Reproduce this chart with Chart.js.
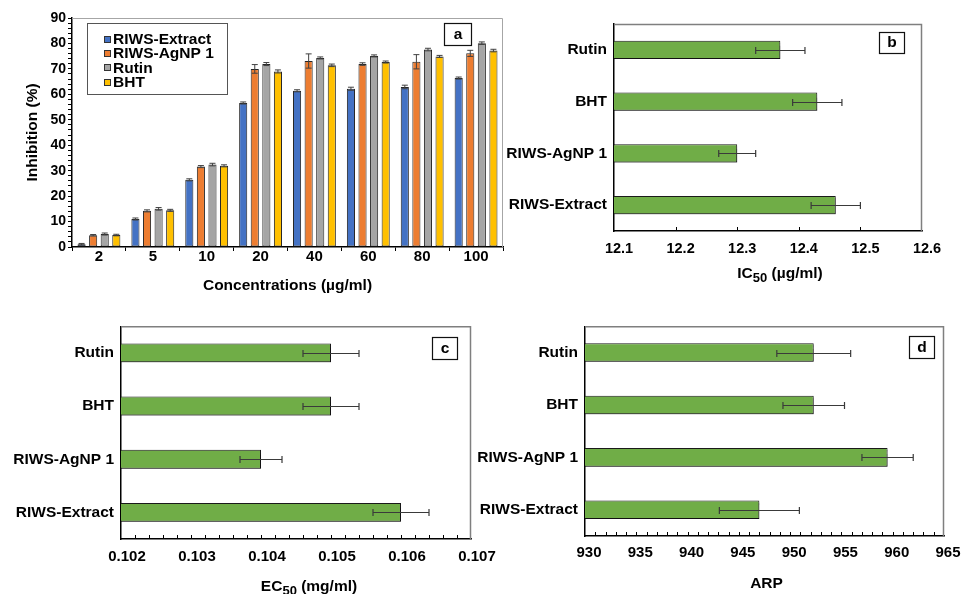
<!DOCTYPE html>
<html>
<head>
<meta charset="utf-8">
<script src="https://cdn.jsdelivr.net/npm/chart.js@4.4.1/dist/chart.umd.min.js"></script>
<style>
  html, body { margin: 0; padding: 0; background: #fff; overflow: hidden; width: 962px; height: 594px; }
  canvas { position: absolute; }
</style>
</head>
<body>
<canvas id="panelA" width="505" height="300" style="left:0;top:0"></canvas>
<canvas id="panelB" width="462" height="300" style="left:500px;top:0"></canvas>
<canvas id="panelC" width="510" height="284" style="left:0;top:310px"></canvas>
<canvas id="panelD" width="510" height="284" style="left:470px;top:310px"></canvas>
<script>
// ---- data ----
const concentrations = ['2', '5', '10', '20', '40', '60', '80', '100'];
const seriesNames = ['RIWS-Extract', 'RIWS-AgNP 1', 'Rutin', 'BHT'];

const extractInhibition = [1.1, 11.0, 26.4, 56.6, 61.4, 62.2, 62.9, 66.4];
const agnpInhibition    = [4.6, 14.2, 31.6, 70.0, 73.1, 71.9, 72.8, 76.1];
const rutinInhibition   = [5.1, 15.0, 32.4, 71.9, 74.3, 75.1, 77.6, 80.1];
const bhtInhibition     = [4.7, 14.4, 31.9, 69.0, 71.4, 72.7, 74.9, 77.2];

const extractInhibitionErr = [0.3, 0.4, 0.4, 0.4, 0.4, 0.6, 0.7, 0.4];
const agnpInhibitionErr    = [0.3, 0.4, 0.4, 1.7, 2.8, 0.5, 2.8, 1.2];
const rutinInhibitionErr   = [0.4, 0.5, 0.5, 0.6, 0.4, 0.4, 0.5, 0.5];
const bhtInhibitionErr     = [0.3, 0.4, 0.4, 0.6, 0.5, 0.4, 0.4, 0.5];

const inhibitionTicks = [0, 10, 20, 30, 40, 50, 60, 70, 80, 90];

const samples = ['Rutin', 'BHT', 'RIWS-AgNP 1', 'RIWS-Extract'];

const ic50Values = [12.37, 12.43, 12.30, 12.46];
const ic50Err    = [0.04, 0.04, 0.03, 0.04];
const ic50Ticks  = [12.1, 12.2, 12.3, 12.4, 12.5, 12.6];

const ec50Values = [0.105, 0.105, 0.104, 0.106];
const ec50Err    = [0.0004, 0.0004, 0.0003, 0.0004];
const ec50Ticks  = [0.102, 0.103, 0.104, 0.105, 0.106, 0.107];

const arpValues = [952.3, 952.3, 959.5, 947.0];
const arpErr    = [3.6, 3.0, 2.5, 3.9];
const arpTicks  = [930, 935, 940, 945, 950, 955, 960, 965];

// ---- styles ----
const seriesColors = ['#4472C4', '#ED7D31', '#A5A5A5', '#FFC000'];
const barGreen = '#70AD47';
const FONT = '"Liberation Sans", Arial, Helvetica, sans-serif';

Chart.defaults.font.family = FONT;
Chart.defaults.font.weight = 'bold';
Chart.defaults.color = '#000';

// ---- plugin factories (settings are kept in closures) ----
function barShadow(o) {
  return {
    id: 'barShadow',
    beforeDatasetDraw(chart) {
      const c = chart.ctx;
      c.save();
      c.shadowColor = o.color; c.shadowOffsetX = o.dx; c.shadowOffsetY = o.dy; c.shadowBlur = o.blur;
    },
    afterDatasetDraw(chart) { chart.ctx.restore(); }
  };
}

function errorBars(o) {
  return {
    id: 'errorBars',
    afterDatasetsDraw(chart) {
      const ctx = chart.ctx;
      const horizontal = chart.options.indexAxis === 'y';
      const vScale = horizontal ? chart.scales.x : chart.scales.y;
      chart.data.datasets.forEach((ds, di) => {
        if (!ds.errors) return;
        const meta = chart.getDatasetMeta(di);
        meta.data.forEach((bar, i) => {
          const v = ds.data[i], e = ds.errors[i];
          const lo = vScale.getPixelForValue(v - e);
          const hi = vScale.getPixelForValue(v + e);
          const c = o.cap / 2;
          ctx.save();
          ctx.strokeStyle = o.color;
          ctx.lineWidth = o.width;
          ctx.beginPath();
          if (horizontal) {
            const y = Math.round(bar.y) + 0.5;
            ctx.moveTo(lo, y); ctx.lineTo(hi, y);
            ctx.moveTo(lo, y - c); ctx.lineTo(lo, y + c);
            ctx.moveTo(hi, y - c); ctx.lineTo(hi, y + c);
          } else {
            const x = bar.x;
            ctx.moveTo(x, lo); ctx.lineTo(x, hi);
            ctx.moveTo(x - c, lo); ctx.lineTo(x + c, lo);
            ctx.moveTo(x - c, hi); ctx.lineTo(x + c, hi);
          }
          ctx.stroke();
          ctx.restore();
        });
      });
    }
  };
}

// top and right edges of the plot box
function frame(o) {
  return {
    id: 'frame',
    beforeDatasetsDraw(chart) {
      const { ctx, chartArea: a } = chart;
      ctx.save();
      ctx.strokeStyle = o.color;
      ctx.lineWidth = o.width;
      ctx.beginPath();
      ctx.moveTo(a.left, a.top + 0.5);
      ctx.lineTo(a.right - 0.5, a.top + 0.5);
      ctx.lineTo(a.right - 0.5, a.bottom);
      ctx.stroke();
      ctx.restore();
    }
  };
}

// tick marks pointing up into the plot from the value axis
function innerTicks(o) {
  return {
    id: 'innerTicks',
    beforeDatasetsDraw(chart) {
      const s = chart.scales.x, ctx = chart.ctx, a = chart.chartArea;
      const n = Math.round((s.max - s.min) / o.step);
      ctx.save();
      ctx.strokeStyle = o.color;
      ctx.lineWidth = 1;
      ctx.beginPath();
      for (let k = 1; k < n; k++) {
        const px = Math.round(s.getPixelForValue(s.min + k * o.step)) + 0.5;
        const len = (k % o.major === 0) ? o.majorLen : o.len;
        ctx.moveTo(px, a.bottom);
        ctx.lineTo(px, a.bottom - len);
      }
      ctx.stroke();
      ctx.restore();
    }
  };
}

// axis titles, with optional subscript parts
function axisTitles(items) {
  return {
    id: 'axisTitles',
    afterDraw(chart) {
      const { ctx, chartArea: a } = chart;
      items.forEach(it => {
        const font = `bold ${it.size || 15.5}px ${FONT}`;
        const subFont = `bold ${it.subSize || 13}px ${FONT}`;
        const shift = it.shift || 0;
        let cx, cy;
        if (it.axis === 'x') { cx = (a.left + a.right) / 2 + shift; cy = a.bottom + it.offset; }
        else { cx = a.left + it.offset; cy = (a.top + a.bottom) / 2 + shift; }
        ctx.save();
        ctx.translate(cx, cy);
        if (it.axis === 'y') ctx.rotate(-Math.PI / 2);
        let total = 0;
        const widths = it.parts.map(p => {
          ctx.font = p.sub ? subFont : font;
          const w = ctx.measureText(p.text).width;
          total += w;
          return w;
        });
        let x = -total / 2;
        ctx.textBaseline = 'middle';
        ctx.textAlign = 'left';
        ctx.fillStyle = '#000';
        it.parts.forEach((p, i) => {
          ctx.font = p.sub ? subFont : font;
          ctx.fillText(p.text, x, p.sub ? 4.5 : 0);
          x += widths[i];
        });
        ctx.restore();
      });
    }
  };
}

function panelTag(o) {
  return {
    id: 'panelTag',
    afterDraw(chart) {
      const { ctx, chartArea: a } = chart;
      const x = Math.round(a.right - o.right - o.w), y = Math.round(a.top + o.top);
      ctx.save();
      ctx.fillStyle = '#fff';
      ctx.fillRect(x, y, o.w, o.h);
      ctx.strokeStyle = '#111';
      ctx.lineWidth = 1.2;
      ctx.strokeRect(x + 0.5, y + 0.5, o.w, o.h);
      ctx.font = `bold 15.5px ${FONT}`;
      ctx.textAlign = 'center';
      ctx.textBaseline = 'middle';
      ctx.fillStyle = '#000';
      ctx.fillText(o.text, x + o.w / 2 + 0.5, y + o.h / 2 + 0.5);
      ctx.restore();
    }
  };
}

function boxedLegend(o) {
  return {
    id: 'boxedLegend',
    afterDraw(chart) {
      const { ctx, chartArea: a } = chart;
      const x = Math.round(a.left + o.left), y = Math.round(a.top + o.top);
      ctx.save();
      ctx.fillStyle = '#fff';
      ctx.fillRect(x, y, o.w, o.h);
      ctx.strokeStyle = '#555';
      ctx.lineWidth = 1;
      ctx.strokeRect(x + 0.5, y + 0.5, o.w, o.h);
      ctx.font = `bold 15.5px ${FONT}`;
      ctx.textBaseline = 'middle';
      ctx.textAlign = 'left';
      chart.data.datasets.forEach((ds, i) => {
        const cy = y + o.firstRow + i * o.rowGap;
        const mx = x + o.markX, my = Math.round(cy - 4);
        ctx.fillStyle = ds.backgroundColor;
        ctx.fillRect(mx, my, 6, 6);
        ctx.strokeStyle = '#333';
        ctx.strokeRect(mx + 0.5, my + 0.5, 6, 6);
        ctx.fillStyle = '#000';
        ctx.fillText(ds.label, x + o.textX, cy);
      });
      ctx.restore();
    }
  };
}

const fixedSize = size => scale => {
  if (scale.isHorizontal()) scale.height = size; else scale.width = size;
};

// ---- panel a: inhibition by concentration ----
const inhibitionSeries = [extractInhibition, agnpInhibition, rutinInhibition, bhtInhibition];
const inhibitionErrors = [extractInhibitionErr, agnpInhibitionErr, rutinInhibitionErr, bhtInhibitionErr];

new Chart(document.getElementById('panelA'), {
  type: 'bar',
  data: {
    labels: concentrations,
    datasets: seriesNames.map((name, i) => ({
      label: name,
      data: inhibitionSeries[i],
      errors: inhibitionErrors[i],
      backgroundColor: seriesColors[i],
      borderColor: '#262626',
      borderWidth: 1,
      borderSkipped: false,
      categoryPercentage: 0.86,
      barPercentage: 0.7
    }))
  },
  plugins: [
    frame({ color: '#a6a6a6', width: 1 }),
    errorBars({ color: '#404040', width: 1, cap: 6 }),
    boxedLegend({ left: 15, top: 5, w: 140, h: 71, firstRow: 16.5, rowGap: 14.4, markX: 17, textX: 26 }),
    panelTag({ text: 'a', right: 32, top: 5, w: 27, h: 22 }),
    axisTitles([
      { axis: 'x', offset: 39, shift: 0, parts: [{ text: 'Concentrations (µg/ml)' }] },
      { axis: 'y', offset: -39, shift: 0, parts: [{ text: 'Inhibition (%)' }] }
    ])
  ],
  options: {
    responsive: false,
    animation: false,
    layout: { padding: { top: 18, right: 2, left: 0, bottom: 0 } },
    plugins: { legend: { display: false }, tooltip: { enabled: false } },
    scales: {
      x: {
        grid: { display: true, drawOnChartArea: false, drawTicks: true, tickLength: 4, offset: true, color: '#000' },
        border: { color: '#000', width: 1.5 },
        ticks: { font: { size: 15, weight: 'bold' }, padding: -3 },
        afterFit: fixedSize(53)
      },
      y: {
        min: 0, max: 90,
        beginAtZero: true,
        grid: { display: true, drawOnChartArea: false, drawTicks: true, tickLength: 4, color: '#000' },
        border: { color: '#000', width: 1.5 },
        ticks: {
          stepSize: 2, autoSkip: false, padding: 2,
          font: { size: 14, weight: 'bold' },
          callback: v => inhibitionTicks.includes(v) ? String(v) : ''
        },
        afterFit: fixedSize(72)
      }
    }
  }
});

// ---- panels b, c, d: horizontal bars per sample ----
function sampleChart(id, cfg) {
  return new Chart(document.getElementById(id), {
    type: 'bar',
    data: {
      labels: samples,
      datasets: [{
        label: cfg.label,
        data: cfg.values,
        errors: cfg.errors,
        backgroundColor: barGreen,
        borderColor: '#1a1a1a',
        borderWidth: 1,
        borderSkipped: false,
        categoryPercentage: 1,
        barPercentage: cfg.barPct
      }]
    },
    plugins: [
      barShadow({ color: 'rgba(0,0,0,0.3)', dx: 1.5, dy: 2, blur: 1 }),
      frame({ color: '#7f7f7f', width: 1.5 }),
      innerTicks(cfg.minor),
      errorBars({ color: '#3a3a3a', width: 1.2, cap: 7 }),
      panelTag(cfg.tag),
      axisTitles([cfg.title])
    ],
    options: {
      indexAxis: 'y',
      responsive: false,
      animation: false,
      layout: { padding: { top: cfg.top, right: cfg.right, left: 0, bottom: 0 } },
      plugins: { legend: { display: false }, tooltip: { enabled: false } },
      scales: {
        x: {
          type: 'linear',
          min: cfg.ticks[0],
          max: cfg.ticks[cfg.ticks.length - 1],
          beginAtZero: false,
          afterBuildTicks: s => { s.ticks = cfg.ticks.map(v => ({ value: v })); },
          grid: { display: false, drawTicks: false },
          border: { color: '#000', width: 1.5 },
          ticks: {
            callback: v => v.toFixed(cfg.decimals),
            font: { size: cfg.tickSize, weight: 'bold' },
            padding: cfg.tickPad,
            labelOffset: cfg.labelOffset,
            autoSkip: false,
            maxRotation: 0
          },
          afterFit: fixedSize(cfg.xHeight)
        },
        y: {
          grid: { display: false, drawTicks: false },
          border: { color: '#000', width: 1.5 },
          ticks: { font: { size: 15.5, weight: 'bold' }, padding: 7 },
          afterFit: fixedSize(cfg.yWidth)
        }
      }
    }
  });
}

sampleChart('panelB', {
  label: 'IC50', values: ic50Values, errors: ic50Err, ticks: ic50Ticks, decimals: 1,
  barPct: 0.35, top: 24, right: 40, xHeight: 69, yWidth: 114,
  tickSize: 14.5, tickPad: 9, labelOffset: 5,
  minor: { step: 0.1, major: 1, len: 4, majorLen: 4, color: '#000' },
  tag: { text: 'b', right: 18, top: 8, w: 25, h: 21 },
  title: { axis: 'x', offset: 43, shift: 12, parts: [{ text: 'IC' }, { text: '50', sub: true }, { text: ' (µg/ml)' }] }
});

sampleChart('panelC', {
  label: 'EC50', values: ec50Values, errors: ec50Err, ticks: ec50Ticks, decimals: 3,
  barPct: 0.355, top: 14, right: 39, xHeight: 55, yWidth: 121,
  tickSize: 15, tickPad: 8.5, labelOffset: 6,
  minor: { step: 0.0002, major: 5, len: 4, majorLen: 4, color: '#000' },
  tag: { text: 'c', right: 14, top: 11, w: 25, h: 22 },
  title: { axis: 'x', offset: 48, shift: 13, parts: [{ text: 'EC' }, { text: '50', sub: true }, { text: ' (mg/ml)' }] }
});

sampleChart('panelD', {
  label: 'ARP', values: arpValues, errors: arpErr, ticks: arpTicks, decimals: 0,
  barPct: 0.355, top: 12, right: 36, xHeight: 58, yWidth: 115,
  tickSize: 15, tickPad: 8, labelOffset: 4,
  minor: { step: 1, major: 5, len: 4, majorLen: 4, color: '#000' },
  tag: { text: 'd', right: 10, top: 10, w: 25, h: 22 },
  title: { axis: 'x', offset: 47.5, shift: 2, parts: [{ text: 'ARP' }] }
});
</script>
</body>
</html>
